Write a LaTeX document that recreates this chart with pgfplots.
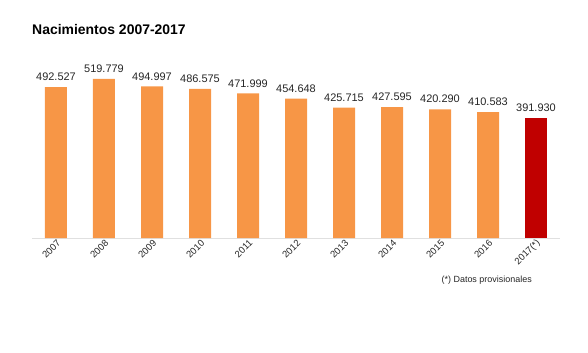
\documentclass[border=0pt]{standalone}
\usepackage{pgfplots}
\pgfplotsset{compat=1.18}
\usepackage{pgfplotstable}
\usepackage{fontspec}
\setmainfont{Liberation Sans}
\definecolor{barorange}{HTML}{F79646}
\definecolor{barred}{HTML}{C00000}
\definecolor{txt}{HTML}{262626}
\pgfplotstableread{
x y lab
0 492527 492.527
1 519779 519.779
2 494997 494.997
3 486575 486.575
4 471999 471.999
5 454648 454.648
6 425715 425.715
7 427595 427.595
8 420290 420.290
9 410583 410.583
}\orangedata
\pgfplotstableread{
x y lab
10 391930 391.930
}\reddata
\begin{document}
\begin{tikzpicture}
\path[use as bounding box] (-32bp,-115bp) rectangle (556bp,238bp);
\begin{axis}[
  at={(0,0)}, anchor=south west,
  scale only axis, width=528bp, height=183.8bp,
  xmin=-0.5, xmax=10.5, ymin=0, ymax=600000,
  enlargelimits=false, clip=false,
  axis x line*=bottom, axis y line=none,
  x axis line style={draw=black!12, line width=0.8pt, -},
  xtick={0,...,10}, xtick style={draw=none},
  xticklabels={2007,2008,2009,2010,2011,2012,2013,2014,2015,2016,2017(*)},
  xticklabel style={rotate=45, anchor=east, font=\fontsize{9.5}{10}\selectfont, text=txt, inner sep=0.5pt, xshift=3bp, yshift=-1.5bp},
  ybar, bar width=22bp, bar shift=0pt,
  point meta=explicit symbolic,
  nodes near coords,
  every node near coord/.append style={font=\fontsize{11}{11}\selectfont, text=txt, inner sep=0pt, anchor=south, yshift=6bp},
]
\addplot[fill=barorange, draw=none] table[x=x, y=y, meta=lab] {\orangedata};
\addplot[fill=barred, draw=none] table[x=x, y=y, meta=lab] {\reddata};
\end{axis}
\node[anchor=base west, inner sep=0pt, font=\fontsize{14}{14}\selectfont\bfseries, text=black] at (0bp,203.5bp) {Nacimientos 2007-2017};
\node[anchor=base east, inner sep=0pt, font=\fontsize{9}{9}\selectfont, text=txt] at (500bp,-44bp) {(*) Datos provisionales};
\end{tikzpicture}
\end{document}
